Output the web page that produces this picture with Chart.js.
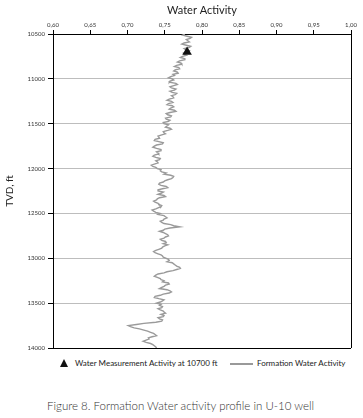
<!DOCTYPE html>
<html>
<head>
<meta charset="utf-8">
<script src="https://cdn.jsdelivr.net/npm/chart.js@4.4.1/dist/chart.umd.min.js"></script>
<style>
  body { margin: 0; background: #fff; }
  #wrap { position: relative; width: 363px; height: 418px; font-family: Lato, "Noto Sans", sans-serif; }
  #chart { position: absolute; left: 0; top: 0; }
  .lg-tri { position: absolute; width: 0; height: 0; border-left: 4.5px solid transparent; border-right: 4.5px solid transparent; border-bottom: 8px solid #111; }
  .lg-line { position: absolute; height: 1.5px; background: #999; }
  .lg-text { position: absolute; font-size: 8px; color: #222; white-space: nowrap; }
  .caption { position: absolute; font-size: 11.5px; font-weight: 300; color: #333; white-space: nowrap; }
</style>
</head>
<body>
<div id="wrap">
  <canvas id="chart" width="363" height="356"></canvas>
  <div class="lg-tri" style="left:60px;top:359px;"></div>
  <div class="lg-text" style="left:75px;top:358px;">Water Measurement Activity at 10700 ft</div>
  <div class="lg-line" style="left:230px;top:363px;width:23px;"></div>
  <div class="lg-text" style="left:257px;top:358px;">Formation Water Activity</div>
  <div class="caption" style="left:47px;top:399px;">Figure 8. Formation Water activity profile in U-10 well</div>
</div>
<script>
/* profile: depth (ft) and water activity */
var depthFt = [
  10500, 10512.5, 10525, 10537.5, 10550, 10562.5, 10575, 10587.5,
  10600, 10612.5, 10625, 10637.5, 10650, 10662.5, 10675, 10687.5,
  10700, 10712.5, 10725, 10737.5, 10750, 10762.5, 10775, 10787.5,
  10800, 10812.5, 10825, 10837.5, 10850, 10862.5, 10875, 10887.5,
  10900, 10912.5, 10925, 10937.5, 10950, 10962.5, 10975, 10987.5,
  11000, 11012.5, 11025, 11037.5, 11050, 11062.5, 11075, 11087.5,
  11100, 11112.5, 11125, 11137.5, 11150, 11162.5, 11175, 11187.5,
  11200, 11212.5, 11225, 11237.5, 11250, 11262.5, 11275, 11287.5,
  11300, 11312.5, 11325, 11337.5, 11350, 11362.5, 11375, 11387.5,
  11400, 11412.5, 11425, 11437.5, 11450, 11462.5, 11475, 11487.5,
  11500, 11512.5, 11525, 11537.5, 11550, 11562.5, 11575, 11587.5,
  11600, 11612.5, 11625, 11637.5, 11650, 11662.5, 11675, 11687.5,
  11700, 11712.5, 11725, 11737.5, 11750, 11762.5, 11775, 11787.5,
  11800, 11812.5, 11825, 11837.5, 11850, 11862.5, 11875, 11887.5,
  11900, 11912.5, 11925, 11937.5, 11950, 11962.5, 11975, 11987.5,
  12000, 12012.5, 12025, 12037.5, 12050, 12062.5, 12075, 12087.5,
  12100, 12112.5, 12125, 12137.5, 12150, 12162.5, 12175, 12187.5,
  12200, 12212.5, 12225, 12237.5, 12250, 12262.5, 12275, 12287.5,
  12300, 12312.5, 12325, 12337.5, 12350, 12362.5, 12375, 12387.5,
  12400, 12412.5, 12425, 12437.5, 12450, 12462.5, 12475, 12487.5,
  12500, 12512.5, 12525, 12537.5, 12550, 12562.5, 12575, 12587.5,
  12600, 12612.5, 12625, 12637.5, 12650, 12662.5, 12675, 12687.5,
  12700, 12712.5, 12725, 12737.5, 12750, 12762.5, 12775, 12787.5,
  12800, 12812.5, 12825, 12837.5, 12850, 12862.5, 12875, 12887.5,
  12900, 12912.5, 12925, 12937.5, 12950, 12962.5, 12975, 12987.5,
  13000, 13012.5, 13025, 13037.5, 13050, 13062.5, 13075, 13087.5,
  13100, 13112.5, 13125, 13137.5, 13150, 13162.5, 13175, 13187.5,
  13200, 13212.5, 13225, 13237.5, 13250, 13262.5, 13275, 13287.5,
  13300, 13312.5, 13325, 13337.5, 13350, 13362.5, 13375, 13387.5,
  13400, 13412.5, 13425, 13437.5, 13450, 13462.5, 13475, 13487.5,
  13500, 13512.5, 13525, 13537.5, 13550, 13562.5, 13575, 13587.5,
  13600, 13612.5, 13625, 13637.5, 13650, 13662.5, 13675, 13687.5,
  13700, 13712.5, 13725, 13737.5, 13750, 13762.5, 13775, 13787.5,
  13800, 13812.5, 13825, 13837.5, 13850, 13862.5, 13875, 13887.5,
  13900, 13912.5, 13925, 13937.5, 13950, 13962.5, 13975, 13987.5,
  14000
];
var waterActivity = [
  0.777, 0.774, 0.780, 0.786, 0.784, 0.779, 0.781, 0.783,
  0.776, 0.773, 0.779, 0.785, 0.783, 0.776, 0.778, 0.783,
  0.781, 0.775, 0.776, 0.779, 0.774, 0.771, 0.777, 0.777,
  0.770, 0.767, 0.772, 0.773, 0.766, 0.763, 0.769, 0.770,
  0.764, 0.762, 0.767, 0.768, 0.761, 0.763, 0.758, 0.755,
  0.760, 0.762, 0.757, 0.756, 0.765, 0.767, 0.762, 0.757,
  0.759, 0.765, 0.763, 0.757, 0.760, 0.766, 0.764, 0.759,
  0.761, 0.762, 0.756, 0.753, 0.759, 0.761, 0.755, 0.753,
  0.760, 0.762, 0.758, 0.756, 0.763, 0.765, 0.757, 0.752,
  0.754, 0.759, 0.758, 0.751, 0.752, 0.757, 0.755, 0.748,
  0.749, 0.755, 0.753, 0.751, 0.757, 0.759, 0.754, 0.748,
  0.749, 0.751, 0.746, 0.741, 0.742, 0.743, 0.737, 0.736,
  0.742, 0.748, 0.747, 0.739, 0.736, 0.734, 0.739, 0.745,
  0.745, 0.739, 0.741, 0.742, 0.736, 0.734, 0.738, 0.744,
  0.743, 0.738, 0.740, 0.741, 0.736, 0.732, 0.734, 0.738,
  0.740, 0.745, 0.744, 0.746, 0.752, 0.749, 0.758, 0.762,
  0.761, 0.759, 0.754, 0.750, 0.748, 0.743, 0.742, 0.745,
  0.752, 0.754, 0.747, 0.741, 0.741, 0.748, 0.745, 0.741,
  0.749, 0.751, 0.743, 0.740, 0.739, 0.735, 0.737, 0.741,
  0.742, 0.746, 0.745, 0.741, 0.738, 0.733, 0.735, 0.738,
  0.744, 0.741, 0.749, 0.751, 0.753, 0.749, 0.748, 0.744,
  0.746, 0.749, 0.758, 0.762, 0.770, 0.757, 0.750, 0.748,
  0.743, 0.748, 0.751, 0.754, 0.755, 0.751, 0.749, 0.744,
  0.746, 0.751, 0.752, 0.748, 0.754, 0.750, 0.747, 0.746,
  0.742, 0.738, 0.735, 0.737, 0.741, 0.745, 0.747, 0.748,
  0.752, 0.755, 0.756, 0.753, 0.760, 0.762, 0.764, 0.766,
  0.770, 0.771, 0.766, 0.761, 0.753, 0.749, 0.741, 0.738,
  0.736, 0.740, 0.744, 0.745, 0.749, 0.747, 0.755, 0.756,
  0.751, 0.749, 0.746, 0.743, 0.753, 0.757, 0.759, 0.756,
  0.748, 0.744, 0.737, 0.736, 0.742, 0.749, 0.747, 0.744,
  0.739, 0.745, 0.743, 0.747, 0.746, 0.741, 0.744, 0.748,
  0.749, 0.751, 0.745, 0.749, 0.748, 0.741, 0.743, 0.747,
  0.746, 0.738, 0.722, 0.712, 0.701, 0.704, 0.709, 0.716,
  0.722, 0.727, 0.731, 0.735, 0.737, 0.739, 0.733, 0.728,
  0.729, 0.725, 0.721, 0.725, 0.731, 0.734, 0.736, 0.738,
  0.739
];

/* single lab measurement */
var measuredDepth = [10700];
var measuredActivity = [0.78];

/* tick positions */
var xTicks = [0.60, 0.65, 0.70, 0.75, 0.80, 0.85, 0.90, 0.95, 1.00];
var yTicks = [10500, 11000, 11500, 12000, 12500, 13000, 13500, 14000];

function toPoints(xs, ys) {
  return xs.map(function (x, i) { return { x: x, y: ys[i] }; });
}

var FONT = 'Lato, "Noto Sans", sans-serif';
var TICK_FONT = { family: FONT, size: 6 };

new Chart(document.getElementById('chart'), {
  type: 'scatter',
  data: {
    datasets: [
      {
        label: 'Water Measurement Activity at 10700 ft',
        data: toPoints(measuredActivity, measuredDepth),
        pointStyle: 'triangle',
        pointRadius: 5.5,
        backgroundColor: '#111',
        borderColor: '#111',
        borderWidth: 0,
        order: 0
      },
      {
        label: 'Formation Water Activity',
        data: toPoints(waterActivity, depthFt),
        showLine: true,
        pointRadius: 0,
        borderColor: '#9a9a9a',
        borderWidth: 1.4,
        tension: 0,
        order: 1
      }
    ]
  },
  options: {
    responsive: false,
    animation: false,
    devicePixelRatio: 1,
    layout: { padding: { left: 4, right: 12, top: 4, bottom: 8 } },
    plugins: { legend: { display: false }, tooltip: { enabled: false } },
    scales: {
      x: {
        type: 'linear',
        position: 'top',
        min: xTicks[0],
        max: xTicks[xTicks.length - 1],
        afterBuildTicks: function (s) { s.ticks = xTicks.map(function (v) { return { value: v }; }); },
        afterFit: function (s) { s.height = 30; },
        ticks: {
          color: '#333',
          font: TICK_FONT,
          padding: 1,
          maxRotation: 0,
          autoSkip: false,
          callback: function (v) { return v.toFixed(2).replace('.', ','); }
        },
        grid: {
          drawOnChartArea: true,
          tickLength: 4,
          tickColor: '#000',
          color: function (ctx) { return ctx.tick && ctx.tick.value === 1 ? '#000' : 'rgba(0,0,0,0)'; },
          lineWidth: 1
        },
        border: { display: true, color: '#000', width: 1 },
        title: {
          display: true,
          text: 'Water Activity',
          color: '#222',
          font: { family: FONT, size: 11 },
          padding: { top: 0, bottom: 1 }
        }
      },
      y: {
        type: 'linear',
        reverse: true,
        min: yTicks[0],
        max: yTicks[yTicks.length - 1],
        afterBuildTicks: function (s) { s.ticks = yTicks.map(function (v) { return { value: v }; }); },
        afterFit: function (s) { s.width = 49; },
        ticks: {
          color: '#333',
          font: TICK_FONT,
          padding: 3,
          autoSkip: false,
          callback: function (v) { return String(v); }
        },
        grid: {
          tickLength: 5,
          tickColor: '#000',
          color: function (ctx) {
            var v = ctx.tick && ctx.tick.value;
            return (v === 10500 || v === 14000) ? '#000' : '#bdbdbd';
          },
          lineWidth: 1
        },
        border: { display: true, color: '#000', width: 1 },
        title: {
          display: true,
          text: 'TVD, ft',
          color: '#222',
          font: { family: FONT, size: 10 },
          padding: { top: 0, bottom: 0 }
        }
      }
    }
  }
});
</script>
</body>
</html>
